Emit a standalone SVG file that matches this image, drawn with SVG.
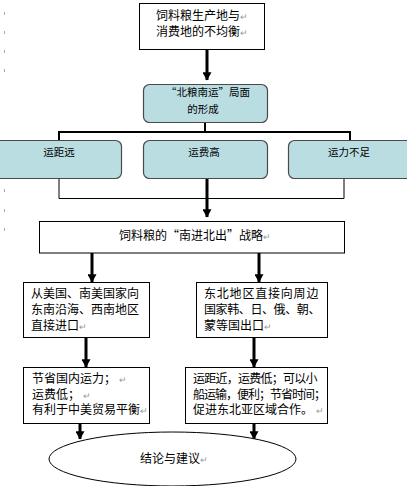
<svg xmlns="http://www.w3.org/2000/svg" width="407" height="486" viewBox="0 0 407 486">
<defs>
<style>
.box{fill:#fff;stroke:#000;stroke-width:1}
.rbox{fill:#badde2;stroke:#4a4a4a;stroke-width:1.2}
.t{font-family:"Noto Sans CJK SC","Liberation Sans",sans-serif;fill:#000}
.s{font-size:12px}
.m{font-size:10.5px}
.pm{fill:#9a9a9a;font-size:9px}
.thick{stroke:#000;stroke-width:3;fill:none}
.thin{stroke:#000;stroke-width:1;fill:none}
.tick{stroke:#aaa;stroke-width:1}
</style>
<marker id="ahd" markerUnits="userSpaceOnUse" markerWidth="10" markerHeight="9" refX="8.5" refY="5" orient="auto" viewBox="0 0 9 10">
<path d="M0,0 L9,5 L0,10 Z" fill="#000"/>
</marker>
</defs>

<g id="margin-marks">
<line class="tick" x1="4.5" y1="12" x2="4.5" y2="15"/>
<line class="tick" x1="4.5" y1="31" x2="4.5" y2="34"/>
<line class="tick" x1="4.5" y1="50" x2="4.5" y2="53"/>
<line class="tick" x1="4.5" y1="69" x2="4.5" y2="72"/>
<line class="tick" x1="4.5" y1="189" x2="4.5" y2="192"/>
<line class="tick" x1="4.5" y1="209" x2="4.5" y2="212"/>
<line class="tick" x1="4.5" y1="228" x2="4.5" y2="231"/>
</g>

<g id="connectors">
<line class="thick" x1="207" y1="49" x2="207" y2="80" marker-end="url(#ahd)"/>
<polyline class="thick" points="205,122 205,132" style="stroke-width:2"/>
<polyline class="thin" points="59,140 59,132 350,132 350,140" style="stroke-width:2"/>
<polyline class="thin" points="59,178 59,198.5 344,198.5 344,178"/>
<line class="thick" x1="207" y1="178" x2="207" y2="217" marker-end="url(#ahd)"/>
<line class="thick" x1="92" y1="253" x2="92" y2="282" marker-end="url(#ahd)"/>
<line class="thick" x1="259" y1="253" x2="259" y2="282" marker-end="url(#ahd)"/>
<line class="thick" x1="86" y1="337" x2="86" y2="367" marker-end="url(#ahd)"/>
<line class="thick" x1="254" y1="337" x2="254" y2="367" marker-end="url(#ahd)"/>
<line class="thick" x1="80" y1="423" x2="80" y2="439" marker-end="url(#ahd)"/>
<line class="thick" x1="254" y1="423" x2="254" y2="439" marker-end="url(#ahd)"/>
</g>

<g id="n-imbalance">
<rect class="box" x="139.5" y="3.5" width="125" height="46"/>
<text class="t s" text-anchor="middle"><tspan x="202" y="20">饲料粮生产地与<tspan class="pm">↵</tspan></tspan><tspan x="202" y="36">消费地的不均衡<tspan class="pm">↵</tspan></tspan></text>
</g>

<g id="n-pattern">
<rect class="rbox" x="143.5" y="84.5" width="124" height="38" rx="6"/>
<text class="t m" text-anchor="middle"><tspan x="208" y="96">“北粮南运”局面</tspan><tspan x="203" y="113">的形成</tspan></text>
</g>

<g id="n-distance">
<rect class="rbox" x="-6" y="140.5" width="127.5" height="38" rx="6"/>
<text class="t m" x="59" y="156" text-anchor="middle">运距远</text>
</g>

<g id="n-cost">
<rect class="rbox" x="143.5" y="140.5" width="124" height="38" rx="6"/>
<text class="t m" x="204" y="156" text-anchor="middle">运费高</text>
</g>

<g id="n-capacity">
<rect class="rbox" x="288.5" y="140.5" width="125" height="38" rx="6"/>
<text class="t m" x="349" y="156" text-anchor="middle">运力不足</text>
</g>

<g id="n-strategy">
<rect class="box" x="39.5" y="221.5" width="305" height="31.5"/>
<text class="t s" x="195" y="239.5" text-anchor="middle">饲料粮的“南进北出”战略<tspan class="pm">↵</tspan></text>
</g>

<g id="n-import">
<rect class="box" x="23.5" y="282.5" width="126" height="55"/>
<text class="t s"><tspan x="31" y="298">从美国、南美国家向</tspan><tspan x="31" y="314">东南沿海、西南地区</tspan><tspan x="31" y="330">直接进口<tspan class="pm">↵</tspan></tspan></text>
</g>

<g id="n-export">
<rect class="box" x="196.5" y="282.5" width="131" height="55"/>
<text class="t s"><tspan x="204" y="298" letter-spacing="0.8">东北地区直接向周边</tspan><tspan x="204" y="314" letter-spacing="-0.4">国家韩、日、俄、朝、</tspan><tspan x="204" y="330">蒙等国出口<tspan class="pm">↵</tspan></tspan></text>
</g>

<g id="n-benefit-left">
<rect class="box" x="23.5" y="367.5" width="126" height="56"/>
<text class="t s"><tspan x="32" y="383">节省国内运力；<tspan class="pm" dx="3">↵</tspan></tspan><tspan x="32" y="398.5">运费低；<tspan class="pm" dx="3">↵</tspan></tspan><tspan x="32" y="414">有利于中美贸易平衡<tspan class="pm">↵</tspan></tspan></text>
</g>

<g id="n-benefit-right">
<rect class="box" x="185.5" y="367.5" width="142" height="56"/>
<text class="t s"><tspan x="193" y="383" letter-spacing="-0.75">运距近，运费低；可以小</tspan><tspan x="193" y="398.5" letter-spacing="-1">船运输，便利；节省时间；</tspan><tspan x="193" y="414">促进东北亚区域合作。<tspan class="pm" dx="3">↵</tspan></tspan></text>
</g>

<g id="n-conclusion">
<ellipse class="box" cx="172.5" cy="459" rx="123.5" ry="27"/>
<text class="t s" x="174" y="463" text-anchor="middle">结论与建议<tspan class="pm">↵</tspan></text>
</g>
</svg>
